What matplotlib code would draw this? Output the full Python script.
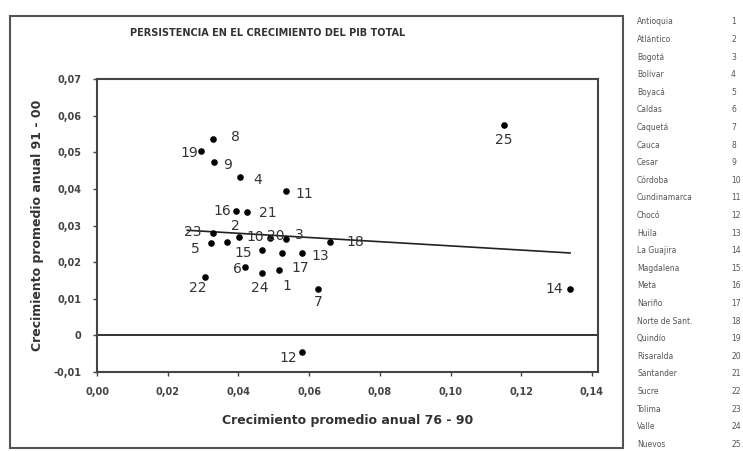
import numpy as np
import matplotlib
matplotlib.use("Agg")
import matplotlib.pyplot as plt
from matplotlib.patches import Rectangle

# department numbers and their growth rates
dept_ids = list(range(1, 26))
growth_76_90 = [0.0515, 0.0402, 0.0534, 0.0404, 0.0322, 0.0419, 0.0625, 0.0328, 0.0331, 0.0368,
                0.0534, 0.0580, 0.0580, 0.1338, 0.0467, 0.0392, 0.0523, 0.0659, 0.0294, 0.0489,
                0.0424, 0.0305, 0.0328, 0.0467, 0.1151]
growth_91_00 = [0.0178, 0.0268, 0.0263, 0.0432, 0.0252, 0.0186, 0.0126, 0.0536, 0.0473, 0.0255,
                0.0394, -0.0046, 0.0225, 0.0126, 0.0233, 0.0339, 0.0225, 0.0255, 0.0503, 0.0266,
                0.0337, 0.0159, 0.0279, 0.0170, 0.0574]

# label offsets in pixels (dx, dy) for each point
label_offsets = [(8, -16), (-4, 11), (14, 4), (18, -3), (-16, -6), (-8, -2), (0, -13), (22, 2),
                 (14, -3), (28, 5), (19, -3), (-14, -6), (18, -3), (-16, 0), (-19, -3), (-13, 0),
                 (18, -15), (25, 0), (-12, -2), (6, 2), (21, -1), (-7, -11), (-20, 1), (-2, -15),
                 (0, -15)]

# trend line end points
trend_x = [0.0255, 0.1338]
trend_y = [0.0287, 0.0225]

x_ticks = [0.00, 0.02, 0.04, 0.06, 0.08, 0.10, 0.12, 0.14]
x_tick_labels = ["0,00", "0,02", "0,04", "0,06", "0,08", "0,10", "0,12", "0,14"]
y_ticks = [-0.01, 0.00, 0.01, 0.02, 0.03, 0.04, 0.05, 0.06, 0.07]
y_tick_labels = ["-0,01", "0", "0,01", "0,02", "0,03", "0,04", "0,05", "0,06", "0,07"]

# list of departments on the right side of the page
dept_names = ["Antioquia", "Atlántico", "Bogotá", "Bolívar", "Boyacá", "Caldas", "Caquetá",
              "Cauca", "Cesar", "Córdoba", "Cundinamarca", "Chocó", "Huila", "La Guajira",
              "Magdalena", "Meta", "Nariño", "Norte de Sant.", "Quindío", "Risaralda",
              "Santander", "Sucre", "Tolima", "Valle", "Nuevos"]

W, H = 743, 451
fig = plt.figure(figsize=(W / 100, H / 100), dpi=100)

# outer frame around the chart
fig.patches.append(Rectangle((10 / W, 1 - 448 / H), 613 / W, 432 / H, transform=fig.transFigure,
                             fill=False, edgecolor="#555555", linewidth=1.5))

ax = fig.add_axes([97 / W, 1 - 372 / H, 501 / W, 293 / H])
ax.scatter(growth_76_90, growth_91_00, s=14, color="black", zorder=3)
ax.plot(trend_x, trend_y, color="#222222", linewidth=1.2)
ax.axhline(0, color="#222222", linewidth=1.3)

for i, num in enumerate(dept_ids):
    ax.annotate(str(num), (growth_76_90[i], growth_91_00[i]), xytext=label_offsets[i],
                textcoords="offset pixels", ha="center", va="center", fontsize=10, color="#333333")

ax.set_xlim(0, 0.1417)
ax.set_ylim(-0.01, 0.07)
ax.set_xticks(x_ticks)
ax.set_xticklabels(x_tick_labels, fontsize=7, fontweight="bold", color="#444444")
ax.set_yticks(y_ticks)
ax.set_yticklabels(y_tick_labels, fontsize=7, fontweight="bold", color="#444444")
ax.tick_params(direction="out", length=3, width=1, pad=8, color="#444444")
for spine in ax.spines.values():
    spine.set_linewidth(1.5)
    spine.set_color("#444444")

ax.set_xlabel("Crecimiento promedio anual 76 - 90", fontsize=9, fontweight="bold", color="#333333", labelpad=12)
ax.set_ylabel("Crecimiento promedio anual 91 - 00", fontsize=9, fontweight="bold", color="#333333", labelpad=7)

fig.text(268 / W, 1 - 33 / H, "PERSISTENCIA EN EL CRECIMIENTO DEL PIB TOTAL", ha="center", va="center",
         fontsize=7, fontweight="bold", color="#333333")

# department list
for i, name in enumerate(dept_names):
    y = 1 - (22 + i * 17.6) / H
    fig.text(637 / W, y, name, ha="left", va="center", fontsize=5.5, color="#555555")
    fig.text(731 / W, y, str(i + 1), ha="left", va="center", fontsize=5.5, color="#555555")

plt.savefig("out.png", dpi=100)
